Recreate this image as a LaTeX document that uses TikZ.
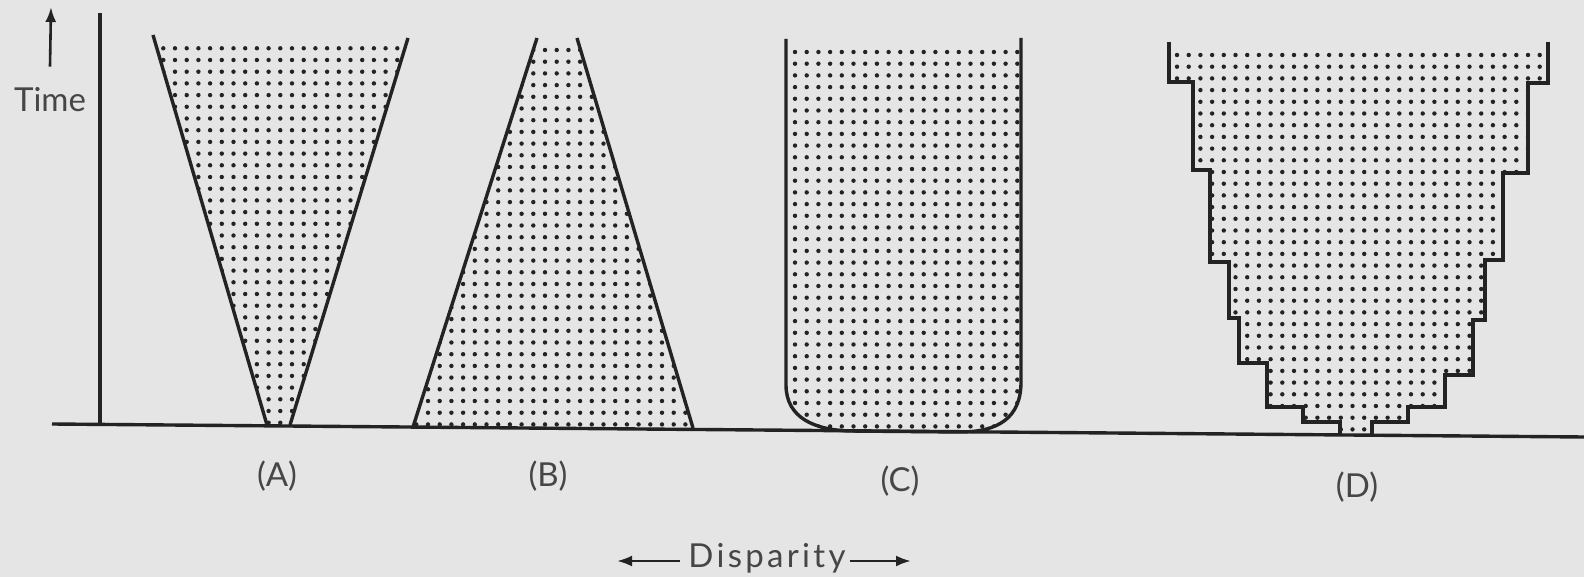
\documentclass[tikz,border=0pt]{standalone}
\usepackage{fontspec}
\setmainfont{Lato}
\usetikzlibrary{arrows.meta}
\definecolor{paper}{RGB}{229,229,229}
\definecolor{ink}{RGB}{35,35,35}
\definecolor{labelink}{RGB}{70,70,70}
\begin{document}
\begin{tikzpicture}[x=1pt,y=-1pt,
  outline/.style={draw=ink, line width=3.4pt, line join=miter},
  arr/.style={draw=ink, line width=2.6pt, -{Latex[length=15pt,width=11pt]}},
  lbl/.style={font=\fontsize{33}{40}\selectfont, text=labelink, inner sep=0pt},
  dot/.style={fill=ink}]
\fill[paper] (0,0) rectangle (1584,577);
\useasboundingbox (0,0) rectangle (1584,577);

% ---------- Shape A ----------
\coordinate (a1) at (153,35); \coordinate (a2) at (267,425);
\coordinate (a3) at (290,425); \coordinate (a4) at (408,38);
\begin{scope}
  \clip (a1) -- (a2) -- (a3) -- (a4) -- cycle;
  \clip (0,43) rectangle (1584,577);
  \fill[dot] \foreach \x in {151.6,163.3,...,412} {\foreach \y in {48.3,60,...,432} {(\x,\y) circle[radius=2.2pt]}};
\end{scope}
\draw[outline] (a1) -- (a2);
\draw[outline] (a3) -- (a4);

% ---------- Shape B ----------
\coordinate (b1) at (537,38); \coordinate (b2) at (413,427);
\coordinate (b3) at (693,428); \coordinate (b4) at (577,38);
\begin{scope}
  \clip (b1) -- (b2) -- (b3) -- (b4) -- cycle;
  \clip (0,45) rectangle (1584,577);
  \fill[dot] \foreach \x in {404.6,416.3,...,702} {\foreach \y in {50,61.7,...,432} {(\x,\y) circle[radius=2.2pt]}};
\end{scope}
\draw[outline] (b1) -- (b2);
\draw[outline] (b3) -- (b4);

% ---------- Shape C ----------
\begin{scope}
  \clip (786,39) -- (786,385) .. controls (786,418) and (815,430) .. (850,431) -- (960,432) .. controls (998,432) and (1021,418) .. (1021,382) -- (1021,38) -- cycle;
  \clip (0,46) rectangle (1584,577);
  \fill[dot] \foreach \x in {783.3,795,...,1027} {\foreach \y in {52,63.7,...,442} {(\x,\y) circle[radius=2.2pt]}};
\end{scope}
\draw[outline] (786,39) -- (786,385) .. controls (786,418) and (815,430) .. (850,431) -- (960,432) .. controls (998,432) and (1021,418) .. (1021,382) -- (1021,38);

% ---------- Shape D ----------
\begin{scope}
  \clip (1169,42) -- (1169,82) -- (1193,82) -- (1193,170) -- (1210,170) -- (1210,262) -- (1229,262) -- (1229,318) -- (1239,318) -- (1239,363) -- (1267,363) -- (1267,407) -- (1303,407) -- (1303,422) -- (1340,422) -- (1340,435)
        -- (1372,435) -- (1372,422) -- (1408,422) -- (1408,407) -- (1445,407) -- (1445,375) -- (1473,375) -- (1473,320) -- (1485,320) -- (1485,260) -- (1503,260) -- (1503,173) -- (1528,173) -- (1528,83) -- (1548,83) -- (1548,42) -- cycle;
  \clip (0,50) rectangle (1584,577);
  \fill[dot] \foreach \x in {1165.3,1177,...,1552} {\foreach \y in {55,66.7,...,442} {(\x,\y) circle[radius=2.2pt]}};
\end{scope}
\draw[outline] (1169,42) -- (1169,82) -- (1193,82) -- (1193,170) -- (1210,170) -- (1210,262) -- (1229,262) -- (1229,318) -- (1239,318) -- (1239,363) -- (1267,363) -- (1267,407) -- (1303,407) -- (1303,422) -- (1340,422) -- (1340,435);
\draw[outline] (1548,42) -- (1548,83) -- (1528,83) -- (1528,173) -- (1503,173) -- (1503,260) -- (1485,260) -- (1485,320) -- (1473,320) -- (1473,375) -- (1445,375) -- (1445,407) -- (1408,407) -- (1408,422) -- (1372,422) -- (1372,435);

% ---------- axes ----------
\coordinate (bl) at (52,424); \coordinate (br) at (1584,437);
\draw[outline] (bl) -- (br);
\coordinate (ax0) at (100,425); \coordinate (ax1) at (100,13);
\draw[outline] (ax0) -- (ax1);

\node[lbl] (time) at (50,100) {Time};
\coordinate (tarrow) at (51,7);
\draw[arr] ([yshift=21pt]time.north) -- (tarrow);

% ---------- labels ----------
\node[lbl] (labA) at (277,476) {(A)};
\node[lbl] (labB) at (548,476) {(B)};
\node[lbl] (labC) at (900,481) {(C)};
\node[lbl] (labD) at (1357,487) {(D)};

\node[lbl, anchor=base] (disp) at (767,567) {\addfontfeature{LetterSpace=10}Disparity};
\coordinate (larrow) at (617,561);
\coordinate (rarrow) at (911,561);
\draw[arr] ([shift={(-8pt,6pt)}]disp.base west) -- (larrow);
\draw[arr] ([shift={(4pt,6pt)}]disp.base east) -- (rarrow);
\end{tikzpicture}
\end{document}
